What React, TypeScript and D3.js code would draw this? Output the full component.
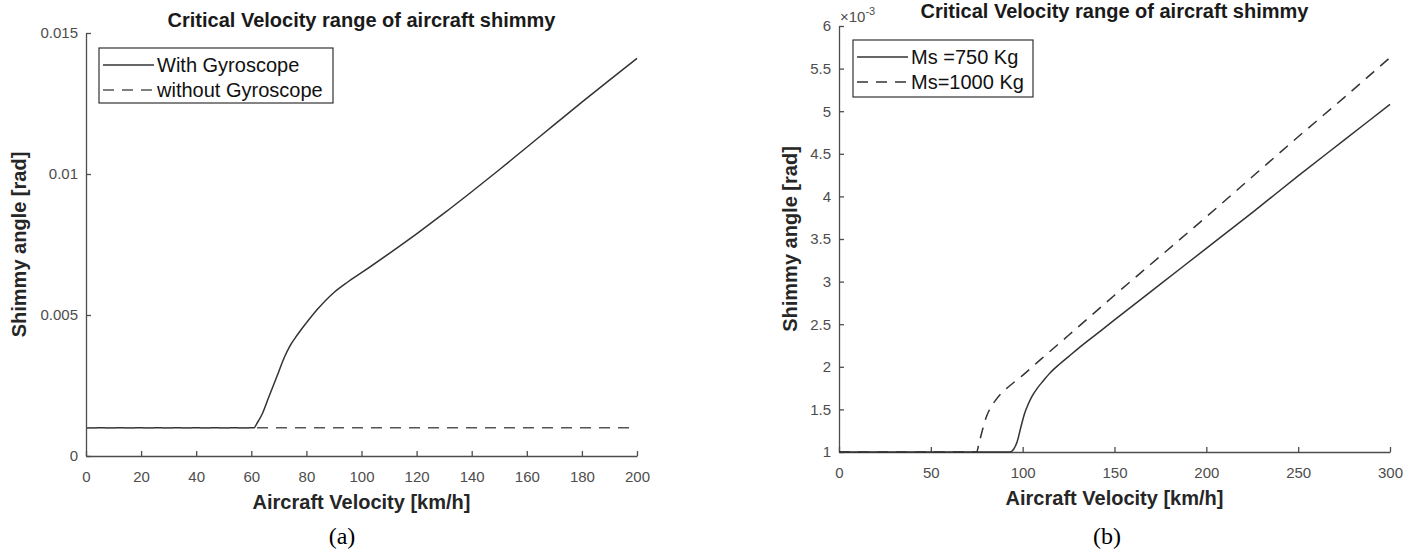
import * as React from 'react';
import * as d3 from 'd3';

const SANS = '"Liberation Sans", Arial, Helvetica, sans-serif';
const SERIF = '"Liberation Serif", "Times New Roman", serif';

// panel (a): shimmy angle [rad] vs velocity [km/h]
const gyroVel = [0, 20, 40, 60, 61, 62, 64, 66, 68, 70, 72, 74, 76, 78, 80, 84, 90, 95, 100, 110, 120, 130, 140, 150, 160, 170, 180, 190, 200];
const gyroAngle = [0.001, 0.001, 0.001, 0.001, 0.001, 0.00115, 0.0015, 0.002, 0.0025, 0.003, 0.0035, 0.0039, 0.0042, 0.00447, 0.00472, 0.0052, 0.0058, 0.00617, 0.0065, 0.00718, 0.00788, 0.00861, 0.00937, 0.01015, 0.01095, 0.01175, 0.01255, 0.01333, 0.0141];
const noGyroVel = [0, 50, 100, 150, 200];
const noGyroAngle = [0.001, 0.001, 0.001, 0.001, 0.001];
const ticksA_x = [0, 20, 40, 60, 80, 100, 120, 140, 160, 180, 200];
const ticksA_y = [0, 0.005, 0.01, 0.015];

// panel (b): angle in units of 1e-3 rad
const ms750Vel = [0, 50, 93, 95, 97, 99, 101, 103, 105, 108, 111, 115, 120, 125, 130, 140, 150, 175, 200, 225, 250, 275, 300];
const ms750Angle = [1, 1, 1, 1.03, 1.12, 1.29, 1.45, 1.56, 1.65, 1.75, 1.83, 1.93, 2.03, 2.12, 2.21, 2.38, 2.55, 2.97, 3.39, 3.81, 4.24, 4.66, 5.08];
const ms1000Vel = [0, 50, 75, 76, 78, 80, 82, 85, 88, 92, 96, 100, 110, 125, 150, 175, 200, 225, 250, 275, 300];
const ms1000Angle = [1, 1, 1, 1.08, 1.25, 1.4, 1.5, 1.6, 1.68, 1.76, 1.83, 1.9, 2.09, 2.37, 2.84, 3.3, 3.76, 4.23, 4.7, 5.16, 5.63];
const ticksB_x = [0, 50, 100, 150, 200, 250, 300];
const ticksB_y = [1, 1.5, 2, 2.5, 3, 3.5, 4, 4.5, 5, 5.5, 6];

const TITLE = 'Critical Velocity range of aircraft shimmy';

const drawPanel = (svg, cfg) => {
	const x = d3.scaleLinear().domain(cfg.xDomain).range([cfg.left, cfg.right]);
	const y = d3.scaleLinear().domain(cfg.yDomain).range([cfg.bottom, cfg.top]);
	const g = svg.append('g');

	const styleAxis = (a) => {
		a.select('.domain').attr('stroke', '#4d4d4d').attr('stroke-width', 1.3);
		a.selectAll('.tick line').attr('stroke', '#4d4d4d').attr('stroke-width', 1.3);
		a.selectAll('.tick text')
			.attr('fill', '#4d4d4d')
			.style('font-family', SANS)
			.style('font-size', '15px');
	};

	g.append('g')
		.attr('transform', `translate(0,${cfg.bottom})`)
		.call(d3.axisBottom(x).tickValues(cfg.xTicks).tickFormat(d => String(d))
			.tickSizeInner(-5).tickSizeOuter(0).tickPadding(15))
		.call(styleAxis);

	g.append('g')
		.attr('transform', `translate(${cfg.left},0)`)
		.call(d3.axisLeft(y).tickValues(cfg.yTicks).tickFormat(d => String(d))
			.tickSizeInner(-5).tickSizeOuter(0).tickPadding(8))
		.call(styleAxis);

	const line = d3.line<any>()
		.x(d => x(d[0]))
		.y(d => y(d[1]))
		.curve(d3.curveMonotoneX);

	cfg.series.forEach(s => {
		g.append('path')
			.datum(s.xs.map((v, i) => [v, s.ys[i]]))
			.attr('fill', 'none')
			.attr('stroke', s.color)
			.attr('stroke-width', 1.5)
			.attr('stroke-dasharray', s.dash || null)
			.attr('d', line);
	});

	// title
	g.append('text')
		.attr('x', (cfg.left + cfg.right) / 2)
		.attr('y', cfg.titleY)
		.attr('text-anchor', 'middle')
		.style('font-family', SANS)
		.style('font-size', '20px')
		.style('font-weight', 'bold')
		.attr('fill', '#1a1a1a')
		.text(TITLE);

	// axis labels
	g.append('text')
		.attr('x', (cfg.left + cfg.right) / 2)
		.attr('y', cfg.bottom + 53)
		.attr('text-anchor', 'middle')
		.style('font-family', SANS)
		.style('font-size', '20px')
		.style('font-weight', 'bold')
		.attr('fill', '#262626')
		.text('Aircraft Velocity [km/h]');

	g.append('text')
		.attr('transform', `translate(${cfg.yLabelX},${(cfg.top + cfg.bottom) / 2}) rotate(-90)`)
		.attr('text-anchor', 'middle')
		.style('font-family', SANS)
		.style('font-size', '20px')
		.style('font-weight', 'bold')
		.attr('fill', '#262626')
		.text('Shimmy angle [rad]');

	// legend
	const lg = cfg.legend;
	g.append('rect')
		.attr('x', lg.x).attr('y', lg.y)
		.attr('width', lg.w).attr('height', lg.h)
		.attr('fill', '#fff')
		.attr('stroke', '#333')
		.attr('stroke-width', 1.2);
	cfg.series.forEach((s, i) => {
		const ry = lg.y + 17 + i * 25;
		g.append('line')
			.attr('x1', lg.x + 4).attr('x2', lg.x + 55)
			.attr('y1', ry).attr('y2', ry)
			.attr('stroke', s.color)
			.attr('stroke-width', 1.5)
			.attr('stroke-dasharray', s.dash || null);
		g.append('text')
			.attr('x', lg.x + 58)
			.attr('y', ry)
			.attr('dy', '0.35em')
			.style('font-family', SANS)
			.style('font-size', '20px')
			.attr('fill', '#111')
			.text(s.name);
	});

	// caption
	svg.append('text')
		.attr('x', cfg.captionX)
		.attr('y', 544)
		.attr('text-anchor', 'middle')
		.style('font-family', SERIF)
		.style('font-size', '24px')
		.attr('fill', '#000')
		.text(cfg.caption);

	return {x, y, g};
};

const render = (node) => {
	const svg = d3.select(node);
	svg.selectAll('*').remove();

	drawPanel(svg, {
		left: 86, right: 637, top: 33, bottom: 456,
		xDomain: [0, 200], yDomain: [0, 0.015],
		xTicks: ticksA_x, yTicks: ticksA_y,
		titleY: 27, yLabelX: 26,
		series: [
			{name: 'With Gyroscope', xs: gyroVel, ys: gyroAngle, color: '#333'},
			{name: 'without Gyroscope', xs: noGyroVel, ys: noGyroAngle, color: '#555', dash: '11,8'},
		],
		legend: {x: 99, y: 48, w: 234, h: 55},
		caption: '(a)', captionX: 342,
	});

	const b = drawPanel(svg, {
		left: 839, right: 1390, top: 26, bottom: 452,
		xDomain: [0, 300], yDomain: [1, 6],
		xTicks: ticksB_x, yTicks: ticksB_y,
		titleY: 18, yLabelX: 797,
		series: [
			{name: 'Ms =750 Kg', xs: ms750Vel, ys: ms750Angle, color: '#333'},
			{name: 'Ms=1000 Kg', xs: ms1000Vel, ys: ms1000Angle, color: '#333', dash: '11,8'},
		],
		legend: {x: 853, y: 40, w: 180, h: 57},
		caption: '(b)', captionX: 1107,
	});

	// exponent marker above the y axis
	const ex = b.g.append('text')
		.attr('x', 840)
		.attr('y', 22)
		.style('font-family', SANS)
		.style('font-size', '15px')
		.attr('fill', '#4d4d4d');
	ex.append('tspan').text('\u00d710');
	ex.append('tspan').attr('dy', -7).style('font-size', '11px').text('-3');
};

class App extends React.Component<any, any> {
	private ref = React.createRef<SVGSVGElement>();

	public componentDidMount() {
		render(this.ref.current);
	}

	public render() {
		return (
			<div style={{position: 'absolute', left: 0, top: 0}}>
				<svg ref={this.ref} width={1418} height={552} style={{display: 'block', background: '#fff'}} />
			</div>
		);
	}
}

export default App;
